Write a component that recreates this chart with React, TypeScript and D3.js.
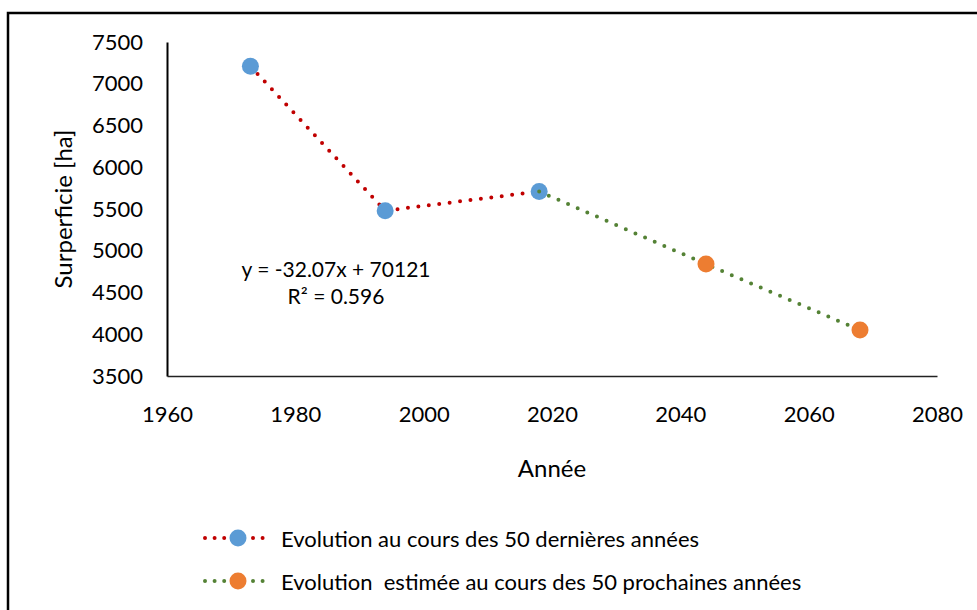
import React, { useEffect, useRef } from 'react';
import * as d3 from 'd3';

const pastYears = [1973, 1994, 2018];
const pastValues = [7210, 5480, 5710];
const futureYears = [2018, 2044, 2068];
const futureValues = [5710, 4840, 4050];
const xTicks = [1960, 1980, 2000, 2020, 2040, 2060, 2080];
const yTicks = [3500, 4000, 4500, 5000, 5500, 6000, 6500, 7000, 7500];
const legendLabels = [
    'Evolution au cours des 50 dernières années',
    'Evolution  estimée au cours des 50 prochaines années'
];
const equationLines = ['y = -32.07x + 70121', 'R² = 0.596'];

const FONT = 'Lato, "Open Sans", sans-serif';

const App = () => {
    const ref = useRef<SVGSVGElement>(null);

    useEffect(() => {
        const svg = d3.select(ref.current);
        svg.selectAll('*').remove();

        const x = d3.scaleLinear().domain([1960, 2080]).range([167, 937]);
        const y = d3.scaleLinear().domain([3500, 7500]).range([376, 42]);

        // outer frame
        svg.append('rect')
            .attr('x', 8).attr('y', 13)
            .attr('width', 980).attr('height', 610)
            .attr('fill', 'white')
            .attr('stroke', 'black')
            .attr('stroke-width', 2.5);

        const yAxis = svg.append('g')
            .attr('transform', 'translate(167,0)')
            .call(d3.axisLeft(y).tickValues(yTicks).tickSize(0).tickPadding(24)
                .tickFormat(d3.format('d')));
        yAxis.select('.domain').attr('stroke', 'black').attr('stroke-width', 2);

        const xAxis = svg.append('g')
            .attr('transform', 'translate(0,376)')
            .call(d3.axisBottom(x).tickValues(xTicks).tickSize(0).tickPadding(30)
                .tickFormat(d3.format('d')));
        xAxis.select('.domain').attr('stroke', '#222').attr('stroke-width', 1.5);

        svg.selectAll('.tick text')
            .attr('font-family', FONT)
            .attr('font-size', 22)
            .attr('fill', 'black');

        svg.append('text')
            .attr('x', 552).attr('y', 467)
            .attr('text-anchor', 'middle')
            .attr('dominant-baseline', 'central')
            .attr('font-family', FONT).attr('font-size', 24)
            .text('Année');

        svg.append('text')
            .attr('transform', 'translate(62,209) rotate(-90)')
            .attr('text-anchor', 'middle')
            .attr('dominant-baseline', 'central')
            .attr('font-family', FONT).attr('font-size', 24)
            .text('Surperficie [ha]');

        const drawSeries = (years, values, color) => {
            const pts = years.map((yr, i) => [x(yr), y(values[i])] as [number, number]);
            svg.append('path')
                .attr('d', d3.line()(pts))
                .attr('fill', 'none')
                .attr('stroke', color)
                .attr('stroke-width', 4)
                .attr('stroke-linecap', 'round')
                .attr('stroke-dasharray', '0 10.5');
            return pts;
        };

        const pastPts = drawSeries(pastYears, pastValues, '#c00000');
        svg.selectAll('.past-dot')
            .data(pastPts)
            .enter().append('circle')
            .attr('cx', d => d[0]).attr('cy', d => d[1])
            .attr('r', 8.5)
            .attr('fill', '#5b9bd5');

        const futurePts = drawSeries(futureYears, futureValues, '#548235');
        svg.selectAll('.future-dot')
            .data(futurePts.slice(1))
            .enter().append('circle')
            .attr('cx', d => d[0]).attr('cy', d => d[1])
            .attr('r', 8.5)
            .attr('fill', '#ed7d31');

        svg.selectAll('.eq')
            .data(equationLines)
            .enter().append('text')
            .attr('x', 336)
            .attr('y', (d, i) => 268 + i * 27)
            .attr('text-anchor', 'middle')
            .attr('dominant-baseline', 'central')
            .attr('font-family', FONT).attr('font-size', 21)
            .text(d => d);

        const legendColors = [['#c00000', '#5b9bd5'], ['#548235', '#ed7d31']];
        const legend = svg.selectAll('.legend')
            .data(legendLabels)
            .enter().append('g')
            .attr('transform', (d, i) => 'translate(0,' + (538 + i * 43) + ')');

        legend.append('line')
            .attr('x1', 205).attr('x2', 271)
            .attr('y1', 0).attr('y2', 0)
            .attr('stroke', (d, i) => legendColors[i][0])
            .attr('stroke-width', 4)
            .attr('stroke-linecap', 'round')
            .attr('stroke-dasharray', '0 9.6');
        legend.append('circle')
            .attr('cx', 238).attr('cy', 0).attr('r', 8.5)
            .attr('fill', (d, i) => legendColors[i][1]);
        legend.append('text')
            .attr('x', 281).attr('y', 0)
            .attr('dominant-baseline', 'central')
            .attr('font-family', FONT).attr('font-size', 22)
            .style('white-space', 'pre')
            .text(d => d);
    }, []);

    return (
        <svg ref={ref} width={977} height={610}
            style={{ position: 'absolute', left: 0, top: 0 }} />
    );
};

export default App;
